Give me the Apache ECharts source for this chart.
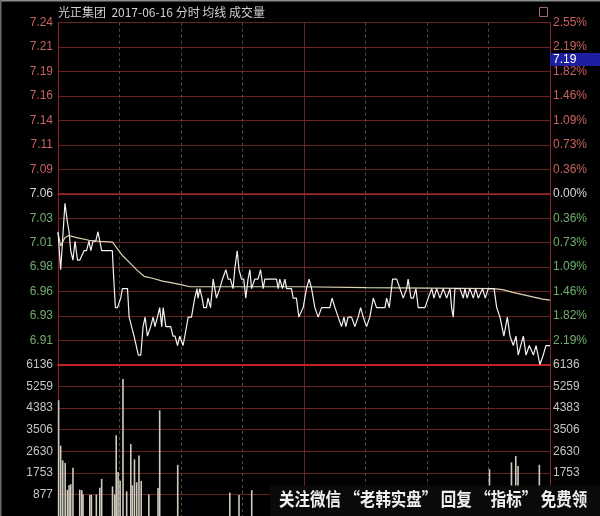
<!DOCTYPE html>
<html><head><meta charset="utf-8">
<script src="https://cdn.jsdelivr.net/npm/echarts@6/dist/echarts.min.js"></script>
<style>html,body{margin:0;padding:0;background:#000;}#c{width:600px;height:516px;}</style>
</head><body><div id="c"></div>
<script>
const prevClose = 7.06;
const stepPct = 0.365;
const volMax = 6136;

const priceMinutes = [0,1.3,3.4,4.6,5.4,6.2,7.3,8.3,9.5,10.6,12.7,13.9,15.1,16,17.1,18.4,19.5,20.4,21.3,26.5,27.2,28,29,30.6,31.4,33.9,34.7,37.1,39.2,40.4,41.5,42.5,43.6,45.2,46.4,47.3,48.5,49.6,50.6,51.3,52.6,53.9,55,56.1,57.1,58.3,59.4,61,62.7,63.5,64.3,65.1,65.9,66.7,67.8,68.3,69.2,70.3,71.1,72.4,73.2,74.4,75.7,76.5,77.3,78.1,78.9,80.2,81.9,83,84.1,85.4,86.2,87.4,88.3,89.5,90.6,91.6,92.7,93.6,94.4,95.2,96,97.6,98.8,100.1,100.9,104.9,106.6,107.4,108.2,109.5,110.7,111.5,113.9,114.7,116.3,117.5,118.2,119.6,121.2,122.5,123.7,125.3,126.9,128.6,132.6,133.7,135.1,136.7,138.3,139.5,140.4,141.5,143.2,144.8,146.4,147.6,148.9,150.5,152.1,153.8,155.4,159.5,160.3,161.6,163.2,165.2,166.8,168.4,170.1,170.8,172.2,173.3,174.6,175.7,179,180.6,182.3,183.4,184.7,186.3,187.9,189.6,191.2,192,192.8,193.6,196.1,197.7,198.5,199.6,200.9,202.6,203.7,205,207.1,208.4,209.9,212.7,214,215.6,217.5,219.2,220.5,222.1,223.4,224.5,225.7,227,228.3,229.9,231.9,233.2,235.1,236.7,238,240];
const prices = [7.02,6.98,7.05,7.03,7.02,7.00,6.99,7.01,6.99,6.99,7.00,7.00,7.01,7.00,7.01,7.01,7.02,7.01,7.00,7.00,6.97,6.94,6.94,6.95,6.96,6.96,6.93,6.91,6.89,6.89,6.92,6.93,6.91,6.92,6.93,6.92,6.93,6.94,6.92,6.94,6.92,6.92,6.92,6.91,6.91,6.90,6.91,6.90,6.92,6.93,6.93,6.93,6.94,6.95,6.96,6.95,6.96,6.95,6.94,6.94,6.95,6.94,6.97,6.96,6.95,6.95,6.96,6.97,6.98,6.97,6.97,6.96,6.98,7.00,6.98,6.97,6.97,6.95,6.97,6.98,6.96,6.96,6.97,6.97,6.98,6.96,6.97,6.97,6.97,6.96,6.97,6.96,6.97,6.96,6.96,6.95,6.95,6.93,6.93,6.94,6.96,6.97,6.96,6.94,6.93,6.94,6.94,6.95,6.94,6.93,6.92,6.93,6.92,6.93,6.93,6.92,6.93,6.94,6.93,6.92,6.93,6.95,6.94,6.94,6.95,6.94,6.97,6.97,6.96,6.95,6.96,6.97,6.95,6.95,6.96,6.94,6.94,6.95,6.96,6.95,6.96,6.95,6.96,6.95,6.96,6.94,6.93,6.96,6.96,6.95,6.96,6.95,6.96,6.95,6.96,6.95,6.96,6.95,6.96,6.96,6.94,6.93,6.91,6.93,6.91,6.90,6.91,6.89,6.90,6.91,6.89,6.90,6.89,6.90,6.88,6.89,6.90,6.90];

const avgMinutes = [0,1.3,3.4,5.4,8.6,15.1,20,26.6,29,31.4,34.7,38.8,42,46.1,51,55.8,60.4,64.3,77.3,118,150.5,212.3,216.9,221.8,228.3,236.4,240];
const avgPrices = [7.019,7.005,7.014,7.016,7.014,7.011,7.010,7.009,7.002,6.995,6.988,6.979,6.973,6.971,6.968,6.966,6.964,6.962,6.962,6.962,6.961,6.960,6.959,6.956,6.953,6.949,6.948];

const volMinutes = [0.3,1.3,2.3,3.5,4.6,5.4,6.2,7.3,10.6,11.6,12.2,15.5,16.3,18.7,20.4,21.3,26.6,27.7,28.4,29.3,30.3,31.7,33.5,35.5,36.3,37.3,38.4,39.5,40.6,44.3,48.8,49.6,58.4,83.8,88.3,94.5,210.5,221.2,223.3,224.4,234.8];
const volumes = [4700,2860,2260,2150,1060,1250,1290,1960,1070,1050,870,860,860,870,1150,1510,1200,870,3280,1790,1430,5560,1000,2920,1250,2300,1370,2455,1420,870,1140,4290,2080,950,850,1050,1900,2180,2440,2030,2080];

const priceTickLabels = ['','6.91','6.93','6.96','6.98','7.01','7.03','7.06','7.09','7.11','7.14','7.16','7.19','7.21','7.24'];
const pctTickLabels = ['','2.19%','1.82%','1.46%','1.09%','0.73%','0.36%','0.00%','0.36%','0.73%','1.09%','1.46%','1.82%','2.19%','2.55%'];
const volTickLabels = ['','877','1753','2630','3506','4383','5259','6136'];

const titleText = '光正集团  2017-06-16 分时 均线 成交量';
const cursorText = '7.19';
const watermarkText = '关注微信 “老韩实盘” 回复 “指标” 免费领';

const step = prevClose * stepPct / 100;
const toSteps = p => (p - prevClose) / step;
const volStep = volMax / 7;

const FONT = 'Liberation Sans, Arial, sans-serif';
const RED = '#c8625e', GREEN = '#6fae6f', WHITE = '#d8d8d8', GREY = '#c4c4c4';
const priceColor = v => { v = Math.round(parseFloat(v)); return v > 0 ? RED : (v === 0 ? WHITE : GREEN); };

const gridLine = '#6a2323';
const priceSplitColors = [];
for (let i = 0; i <= 14; i++) priceSplitColors.push(i === 0 ? '#c42020' : (i === 7 ? '#9a2a2a' : gridLine));
const volSplitColors = [];
for (let i = 0; i <= 7; i++) volSplitColors.push(i === 7 ? '#c42020' : gridLine);

const dashed = { show: true, lineStyle: { color: '#4a4a4a', type: [3, 3], width: 1 } };

const chart = echarts.init(document.getElementById('c'), null, { renderer: 'canvas' });
chart.setOption({
  animation: false,
  backgroundColor: '#000',
  grid: [
    { left: 58, top: 22.7, width: 492, height: 342.2 },
    { left: 58, top: 364.9, width: 492, height: 171.1 }
  ],
  xAxis: [
    { gridIndex: 0, type: 'value', min: 0, max: 240, interval: 30, axisLabel: { show: false }, axisTick: { show: false },
      axisLine: { show: true, onZero: true, lineStyle: { color: '#9a2a2a', width: 1.5 } }, splitLine: dashed },
    { gridIndex: 1, type: 'value', position: 'top', min: 0, max: 240, interval: 30, axisLabel: { show: false }, axisTick: { show: false },
      axisLine: { show: true, onZero: false, lineStyle: { color: '#c42020', width: 2 } }, splitLine: dashed },
    { gridIndex: 0, type: 'value', min: 0, max: 240, interval: 120, axisLabel: { show: false }, axisTick: { show: false },
      axisLine: { show: false }, splitLine: { show: true, lineStyle: { color: '#6a2222', width: 1 } } },
    { gridIndex: 1, type: 'value', min: 0, max: 240, interval: 120, axisLabel: { show: false }, axisTick: { show: false },
      axisLine: { show: false }, splitLine: { show: true, lineStyle: { color: '#6a2222', width: 1 } } }
  ],
  yAxis: [
    { gridIndex: 0, type: 'value', position: 'left', min: -7, max: 7, interval: 1,
      axisLine: { show: true, onZero: false, lineStyle: { color: '#8a2424' } }, axisTick: { show: false },
      splitLine: { show: true, lineStyle: { color: priceSplitColors, width: 1 } },
      axisLabel: { showMinLabel: false, margin: 5, fontSize: 12, fontFamily: FONT,
        formatter: v => priceTickLabels[Math.round(v) + 7], color: priceColor } },
    { gridIndex: 0, type: 'value', position: 'right', min: -7, max: 7, interval: 1,
      axisLine: { show: true, onZero: false, lineStyle: { color: '#8a2424' } }, axisTick: { show: false },
      splitLine: { show: false },
      axisLabel: { showMinLabel: false, margin: 3, fontSize: 12, fontFamily: FONT,
        formatter: v => pctTickLabels[Math.round(v) + 7], color: priceColor } },
    { gridIndex: 1, type: 'value', position: 'left', min: 0, max: volMax, interval: volStep,
      axisLine: { show: true, onZero: false, lineStyle: { color: '#8a2424' } }, axisTick: { show: false },
      splitLine: { show: true, lineStyle: { color: volSplitColors, width: 1 } },
      axisLabel: { margin: 5, fontSize: 12, fontFamily: FONT, color: GREY,
        formatter: v => volTickLabels[Math.round(v / volStep)] } },
    { gridIndex: 1, type: 'value', position: 'right', min: 0, max: volMax, interval: volStep,
      axisLine: { show: true, onZero: false, lineStyle: { color: '#8a2424' } }, axisTick: { show: false },
      splitLine: { show: false },
      axisLabel: { margin: 3, fontSize: 12, fontFamily: FONT, color: GREY,
        formatter: v => volTickLabels[Math.round(v / volStep)] } }
  ],
  series: [
    { type: 'line', name: '均线', xAxisIndex: 0, yAxisIndex: 0, showSymbol: false, silent: true,
      data: avgMinutes.map((m, i) => [m, toSteps(avgPrices[i])]),
      lineStyle: { color: '#ddd4b2', width: 1.2 } },
    { type: 'line', name: '价格', xAxisIndex: 0, yAxisIndex: 0, showSymbol: false, silent: true,
      data: priceMinutes.map((m, i) => [m, toSteps(prices[i])]),
      lineStyle: { color: '#f2f2f2', width: 1.2 } },
    { type: 'bar', name: '成交量', xAxisIndex: 1, yAxisIndex: 2, barWidth: 1.6, silent: true,
      data: volMinutes.map((m, i) => [m, volumes[i]]),
      itemStyle: { color: '#cfcbbd' } }
  ],
  graphic: [
    { type: 'rect', z: 10, shape: { x: 0, y: 0, width: 600, height: 1.5 }, style: { fill: '#8c8c8c' } },
    { type: 'rect', z: 10, shape: { x: 0, y: 0, width: 1.5, height: 516 }, style: { fill: '#6c6c6c' } },
    { type: 'text', z: 10, x: 58, y: 6, style: { text: titleText, fill: '#cfcfcf', font: '12px "Noto Sans CJK SC"', verticalAlign: 'top' } },
    { type: 'rect', z: 10, shape: { x: 539.5, y: 7.5, width: 8, height: 9 }, style: { fill: 'none', stroke: '#a06a6a', lineWidth: 1 } },
    { type: 'rect', z: 10, shape: { x: 550, y: 53, width: 50, height: 13 }, style: { fill: '#1e1ea0' } },
    { type: 'text', z: 11, x: 553, y: 53.5, style: { text: cursorText, fill: '#ffffff', font: '12px Liberation Sans', verticalAlign: 'top' } },
    { type: 'rect', z: 10, shape: { x: 270, y: 485.5, width: 330, height: 31 }, style: { fill: '#0a0a0a' } },
    { type: 'text', z: 11, x: 279, y: 490, scaleX: 0.86, style: { text: watermarkText, fill: '#f0f0f0', font: 'bold 18px "Noto Sans CJK SC"', verticalAlign: 'top' } }
  ]
});
</script></body></html>
